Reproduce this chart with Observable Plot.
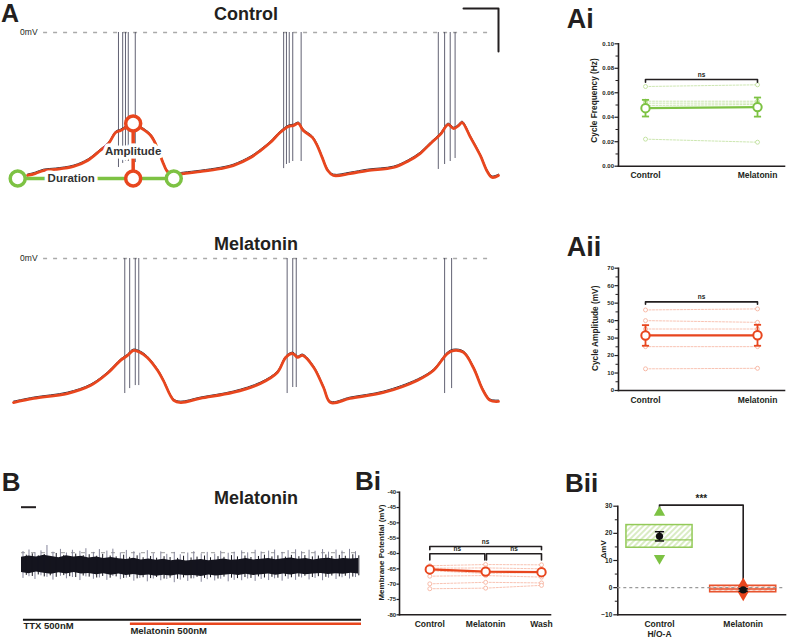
<!DOCTYPE html>
<html><head><meta charset="utf-8">
<script src="https://cdn.jsdelivr.net/npm/d3@7"></script>
<script src="https://cdn.jsdelivr.net/npm/@observablehq/plot@0.6"></script>
<style>
html,body{margin:0;padding:0;background:#fff;}
#fig{position:relative;width:787px;height:639px;overflow:hidden;font-family:"Liberation Sans",Arial,sans-serif;color:#231f20;}
#fig svg{position:absolute;overflow:visible;}
.lbl{position:absolute;font-weight:bold;line-height:1;white-space:nowrap;color:#231f20;}
</style></head><body><div id="fig"></div>
<script>
// ================= DATA =================
// Panel A, Control trace (time in s, membrane potential in mV)
const ctlTime = [2.0,3.1,4.3,6.0,8.6,10.6,12.4,13.6,14.6,15.3,16.0,16.7,17.4,18.1,19.6,20.6,21.4,22.1,23.1,24.3,26.7,29.6,31.4,33.9,35.3,36.7,38.1,39.3,40.0,40.7,41.4,42.7,43.4,44.1,44.9,45.7,48.1,50.6,54.3,56.3,58.1,59.6,61.0,62.1,62.9,63.6,64.1,65.3,66.7,67.7,68.4,69.3];
const ctlMv   = [-66.5,-65.6,-64.2,-63.7,-62.3,-59.5,-54.9,-51.6,-46.5,-45.6,-44.2,-42.8,-42.8,-44.2,-47.9,-54.0,-60.9,-65.1,-66.0,-65.6,-64.7,-63.3,-61.9,-58.1,-54.9,-51.2,-46.5,-43.7,-43.3,-42.3,-45.6,-48.8,-52.6,-58.1,-64.2,-66.5,-65.6,-64.2,-62.8,-60.0,-56.3,-51.6,-47.4,-42.8,-44.7,-43.3,-41.9,-48.8,-57.2,-64.7,-67.4,-66.5];
const ctlSpikeTime = [15.0,15.6,16.0,16.4,17.4,38.6,39.0,39.4,39.9,41.1,60.7,61.6,62.4,63.1];
const ctlSpikeLow  = [-62.8,-60.9,-60.0,-60.0,-60.5,-63.3,-61.4,-60.9,-60.0,-60.0,-63.7,-61.4,-60.0,-58.6];
// Panel A, Melatonin trace
const melTime = [0,2.9,7.7,11.0,13.4,15.3,16.3,17.1,18.1,19.1,20.6,21.4,22.9,23.9,26.7,31.4,35.3,37.7,38.9,39.9,40.6,41.3,42.9,44.3,45.3,48.1,52.9,57.7,60.0,62.0,62.9,64.3,65.7,67.1,68.1,69.3];
const melMv   = [-67.0,-65.1,-62.8,-59.1,-53.5,-47.4,-45.1,-42.8,-43.7,-46.0,-52.1,-56.7,-66.0,-67.0,-65.1,-62.3,-58.1,-53.0,-46.0,-44.2,-46.0,-45.1,-50.7,-60.0,-67.0,-65.1,-62.3,-56.7,-52.1,-44.2,-42.8,-43.7,-50.7,-61.4,-66.0,-66.5];
const melSpikeTime = [15.9,16.6,17.4,17.9,39.1,39.9,40.4,61.6,62.6];
const melSpikeLow  = [-62.8,-60.5,-59.1,-59.1,-62.8,-60.0,-60.0,-62.8,-60.5];
const spikePeakMv = 0;
const zeroLineStart = 4.3, zeroLineEnd = 68.1;
// Duration / amplitude annotation (Control)
const durationStart = 0.6, durationEnd = 22.9, annotBaseMv = -67.9;
const amplitudeTime = 17.1, amplitudePeakMv = -42.3;
// Scale bar A: 5 s, 20 mV
const scaleBarSec = 5, scaleBarMv = 20, scaleBarEnd = 69.3, scaleBarTopMv = 11.2;

// Panel Ai: cycle frequency (Hz)
const pairCats = ["Control", "Melatonin"];
const aiControl   = [0.0651, 0.0531, 0.0515, 0.0496, 0.0221];
const aiMelatonin = [0.0665, 0.0531, 0.0516, 0.0504, 0.0196];
const aiMean = [0.0474, 0.0483];
const aiSem  = [0.0068, 0.0078];
const aiTicks = [0, 0.02, 0.04, 0.06, 0.08, 0.10];
const aiMinor = [0.01, 0.03, 0.05, 0.07, 0.09];
const aiBracket = [{from:0, to:1, y:0.0708, end:0.0686, text:"ns"}];

// Panel Aii: cycle amplitude (mV)
const aiiControl   = [46.1, 40.0, 35.2, 25.1, 12.4];
const aiiMelatonin = [46.7, 39.0, 35.2, 25.1, 12.7];
const aiiMean = [31.5, 31.6];
const aiiSem  = [5.9, 6.0];
const aiiTicks = [0, 10, 20, 30, 40, 50, 60, 70];
const aiiMinor = [5, 15, 25, 35, 45, 55, 65];
const aiiBracket = [{from:0, to:1, y:50.7, end:49.4, text:"ns"}];

// Panel B trace (time in min, mV)
const bEnvHi = [-61.2,-60.6,-61.0,-60.2,-60.8,-61.4,-60.5,-61.1,-60.7,-61.5,-61.0,-61.8,-61.3,-61.9,-62.2,-61.6,-62.4,-62.0,-62.6,-62.1,-62.8,-62.3,-62.9,-62.5,-62.2,-62.8,-62.4,-62.0,-62.6,-62.3,-61.8,-62.4,-62.1,-61.7,-62.3,-61.9,-61.5,-62.1,-61.8,-62.4,-61.9,-61.6,-62.2,-61.8,-62.0,-61.7];
const bEnvLo = [-68.2,-68.8,-68.0,-68.6,-69.1,-68.4,-68.9,-68.3,-69.0,-68.7,-69.3,-68.8,-69.5,-69.0,-69.6,-69.2,-69.8,-69.4,-70.0,-69.5,-69.9,-69.3,-69.8,-69.6,-70.1,-69.4,-69.9,-69.5,-69.2,-69.7,-69.1,-69.6,-69.3,-68.9,-69.5,-69.0,-69.4,-68.8,-69.3,-69.0,-68.7,-69.2,-68.8,-69.1,-68.6,-68.9];
const bEnvStep = 0.5;
const bSpikeTime = [0.1,0.5,0.9,1.3,1.7,2.1,2.6,3.0,3.4,3.9,4.3,4.8,5.2,5.7,6.1,6.6,7.0,7.5,7.9,8.4,8.8,9.3,9.7,10.2,10.6,11.1,11.5,12.0,12.4,12.9,13.3,13.8,14.2,14.7,15.1,15.6,16.0,16.5,16.9,17.4,17.8,18.3,18.7,19.2,19.6,20.1,20.5,21.0,21.4,21.9,22.3];
const bSpikeHi = [-58.5,-57.8,-59.0,-58.2,-55.7,-58.8,-57.5,-59.2,-57.9,-58.4,-57.2,-58.9,-57.6,-58.3,-57.4,-59.1,-58.0,-58.6,-59.3,-58.1,-59.5,-58.7,-59.8,-58.9,-60.0,-59.2,-58.6,-59.6,-58.9,-59.7,-58.4,-59.3,-58.8,-58.2,-59.1,-57.9,-58.7,-58.3,-57.8,-58.9,-58.1,-57.7,-58.6,-57.9,-58.4,-57.6,-58.8,-57.8,-58.3,-57.5,-58.6];
const bSpikeLo = [-71.0,-70.2,-71.5,-69.8,-70.5,-71.8,-70.0,-71.2,-70.6,-72.0,-70.3,-71.4,-70.8,-71.9,-70.1,-71.6,-70.9,-72.3,-71.0,-72.6,-71.3,-72.1,-71.5,-73.0,-71.8,-72.4,-71.2,-72.8,-71.6,-72.2,-71.4,-72.6,-71.9,-72.1,-71.3,-72.4,-71.5,-72.0,-71.2,-72.3,-71.4,-71.9,-70.8,-71.7,-71.0,-72.1,-70.9,-71.5,-70.7,-71.3,-70.6];
const bDarkHi = [-60.2,-59.6,-60.5,-59.9,-60.8,-59.4,-60.3,-60.9,-59.7,-60.4,-60.0,-60.7,-59.8,-60.6,-61.0,-60.2,-61.2,-60.5,-61.4,-60.8,-61.6,-60.9,-61.3,-61.7,-60.7,-61.5,-61.1,-60.6,-61.4,-60.9,-61.2,-60.4,-61.0,-60.6,-61.3,-60.8,-60.2,-61.0,-60.5,-61.1,-60.3,-60.9,-60.4,-61.0,-60.6,-60.1,-60.8,-60.3,-60.7,-60.0,-60.5];
const bDarkLo = [-69.6,-70.1,-69.4,-70.3,-69.8,-70.5,-69.7,-70.2,-70.6,-69.9,-70.4,-70.8,-70.1,-70.9,-70.3,-71.0,-70.5,-71.2,-70.7,-71.1,-70.6,-71.3,-70.9,-71.4,-70.8,-71.2,-70.5,-71.0,-70.7,-71.3,-70.4,-70.9,-71.1,-70.6,-71.0,-70.3,-70.8,-70.5,-70.9,-70.2,-70.7,-70.4,-70.0,-70.6,-70.2,-70.5,-69.9,-70.3,-70.0,-70.4,-69.8];
const bRefMv = -59;
const ttxStart = 0.13, ttxEnd = 22.7, melStart = 7.27, melEnd = 22.7;
const bScaleBarMin = 1;

// Panel Bi: membrane potential (mV)
const biCats = ["Control", "Melatonin", "Wash"];
const biControl   = [-64.0, -64.8, -65.6, -67.4, -69.9, -71.5];
const biMelatonin = [-63.6, -64.7, -66.5, -67.2, -69.4, -71.3];
const biWash      = [-63.7, -65.0, -66.1, -67.7, -69.6, -70.4];
const biMean = [-65.2, -65.9, -66.1];
const biSem  = [0.8, 0.8, 0.8];
const biTicks = [-80, -75, -70, -65, -60, -55, -50, -45, -40];
const biBrackets = [
  {from:0, to:2, y:-57.7, end:-58.8, text:"ns"},
  {from:0, to:0.985, y:-60.1, end:-62.1, text:"ns"},
  {from:1.015, to:2, y:-60.1, end:-62.1, text:"ns"}
];

// Panel Bii: delta mV
const biiCats = ["Control\nH/O-A", "Melatonin"];
const biiQ1  = [14.7, -1.7];
const biiMed = [17.6, -0.5];
const biiQ3  = [23.05, 0.7];
const biiMax = [27.7, 1.3];
const biiMin = [10.8, -2.6];
const biiMean = [18.9, -0.85];
const biiSem  = [1.7, 0.45];
const biiTicks = [-10, 0, 10, 20, 30];
const biiMinor = [-5, 5, 15, 25];
const biiBracket = {y:30.4, leftEnd:29.2, rightEnd:2.6, text:"***"};

// ================= DRAWING =================
const INK = "#231f20";
const FONT = "'Liberation Sans', Arial, Helvetica, sans-serif";
const RED = "#e8461e", RED_LIGHT = "#f6b4a0";
const GREEN = "#7dc243", GREEN_LIGHT = "#bfe09c";
const SPIKE = "#3d3d52";
const fig = document.getElementById("fig");
const style = {fontFamily: FONT, background: "transparent", overflow: "visible", color: INK};

function place(el, left, top) {
  el.style.position = "absolute";
  el.style.left = left + "px";
  el.style.top = top + "px";
  fig.appendChild(el);
}
function label(text, left, top, size, center) {
  const d = document.createElement("div");
  d.className = "lbl";
  d.textContent = text;
  d.style.fontSize = size + "px";
  d.style.left = left + "px";
  d.style.top = top + "px";
  if (center) d.style.transform = "translateX(-50%)";
  fig.appendChild(d);
}

function traceMarks(time, mv, spikeTime, spikeLow) {
  const rows = time.map((t, i) => ({t, v: mv[i]}));
  const spikes = spikeTime.map((t, i) => ({t, lo: spikeLow[i], hi: spikePeakMv}));
  return [
    Plot.ruleY([0], {x1: zeroLineStart, x2: zeroLineEnd, stroke: "#aaaaaa", strokeWidth: 1.6, strokeDasharray: "4,6"}),
    Plot.text(["0mV"], {x: zeroLineStart, y: 0, textAnchor: "end", dx: -6, fontSize: 8.5, fill: INK}),
    Plot.ruleX(spikes, {x: "t", y1: "lo", y2: "hi", stroke: SPIKE, strokeWidth: 0.9, strokeOpacity: 0.9}),
    Plot.line(rows, {x: "t", y: "v", stroke: "#2b2b3a", strokeWidth: 1, dy: -1.4, curve: "catmull-rom"}),
    Plot.line(rows, {x: "t", y: "v", stroke: RED, strokeWidth: 2.8, curve: "catmull-rom"})
  ];
}

// ---- A: Control trace ----
{
  const sb = [
    {t: scaleBarEnd - scaleBarSec, v: scaleBarTopMv},
    {t: scaleBarEnd, v: scaleBarTopMv},
    {t: scaleBarEnd, v: scaleBarTopMv - scaleBarMv}
  ];
  const svg = Plot.plot({
    width: 520, height: 200, margin: 0, style,
    x: {domain: [0, 69.3], range: [13, 498], axis: null},
    y: {domain: [-70, 0], range: [182.5, 32], axis: null},
    marks: [
      ...traceMarks(ctlTime, ctlMv, ctlSpikeTime, ctlSpikeLow),
      Plot.line(sb, {x: "t", y: "v", stroke: INK, strokeWidth: 2}),
      Plot.ruleY([annotBaseMv], {x1: durationStart, x2: durationEnd, stroke: GREEN, strokeWidth: 3.5}),
      Plot.ruleX([amplitudeTime], {y1: annotBaseMv, y2: amplitudePeakMv, stroke: RED, strokeWidth: 3.5}),
      Plot.text(["Duration"], {x: (durationStart + amplitudeTime) / 2 - 0.6, y: annotBaseMv, fontSize: 11.5, fontWeight: "bold", fill: "#333", stroke: "white", strokeWidth: 7}),
      Plot.text(["Amplitude"], {x: amplitudeTime, y: (annotBaseMv + amplitudePeakMv) / 2 - 0.3, fontSize: 11.5, fontWeight: "bold", fill: "#333", stroke: "white", strokeWidth: 7}),
      Plot.dot([durationStart, durationEnd], {x: d => d, y: annotBaseMv, r: 7.5, stroke: GREEN, strokeWidth: 3.5, fill: "white"}),
      Plot.dot([annotBaseMv, amplitudePeakMv], {x: amplitudeTime, y: d => d, r: 7.5, stroke: RED, strokeWidth: 3.5, fill: "white"})
    ]
  });
  place(svg, 0, 0);
}

// ---- A: Melatonin trace ----
{
  const svg = Plot.plot({
    width: 520, height: 220, margin: 0, style,
    x: {domain: [0, 69.3], range: [13, 498], axis: null},
    y: {domain: [-70, 0], range: [208.5, 58], axis: null},
    marks: traceMarks(melTime, melMv, melSpikeTime, melSpikeLow)
  });
  place(svg, 0, 200);
}

// ---- paired dot plots ----
function paired(o) {
  const rows = [];
  o.series.forEach((vals, ci) => vals.forEach((v, id) => rows.push({ci, id, v})));
  const means = o.mean.map((m, i) => ({ci: i, m, s: o.sem[i]}));
  const caps = means.flatMap(d => [{ci: d.ci, y: d.m - d.s}, {ci: d.ci, y: d.m + d.s}]);
  const br = o.brackets.flatMap((b, k) => [
    {k, x: b.from, y: b.end}, {k, x: b.from, y: b.y}, {k, x: b.to, y: b.y}, {k, x: b.to, y: b.end}
  ]);
  const svg = Plot.plot({
    width: o.width, height: o.height, style,
    marginLeft: o.ml, marginTop: o.mt, marginBottom: o.mb, marginRight: o.mr,
    x: {domain: [0, o.cats.length - 1], range: o.xRange, axis: null},
    y: {domain: o.yDomain},
    marks: [
      Plot.frame({anchor: "left", stroke: INK, strokeWidth: 1.6}),
      Plot.frame({anchor: "bottom", stroke: INK, strokeWidth: 1.6}),
      Plot.axisY(o.ticks, {tickSize: o.tickSize, tickPadding: o.tickPad, strokeWidth: 1.2, fontSize: 6, fontWeight: "bold", tickFormat: o.fmt, label: null}),
      o.minor ? Plot.axisY(o.minor, {tickSize: 2.5, strokeWidth: 1, tickFormat: () => "", label: null}) : null,
      Plot.text(o.cats, {x: (d, i) => i, y: o.yDomain[0], dy: 6, lineAnchor: "top", fontSize: 8.5, fontWeight: "bold", fill: INK}),
      Plot.text([o.yLabel], {frameAnchor: "left", y: o.yLabelAt, dx: o.yLabelDx, rotate: -90, textAnchor: "middle", fontSize: o.yLabelSize, fontWeight: "bold", fill: INK}),
      Plot.line(rows, {x: "ci", y: "v", z: "id", stroke: o.light, strokeWidth: 0.8, strokeDasharray: "2,1.5"}),
      Plot.dot(rows, {x: "ci", y: "v", r: 2, stroke: o.light, strokeWidth: 0.9, fill: "white"}),
      Plot.line(br, {x: "x", y: "y", z: "k", stroke: INK, strokeWidth: 1.6}),
      Plot.text(o.brackets, {x: d => (d.from + d.to) / 2, y: "y", text: "text", dy: -5, fontSize: 6.5, fontWeight: "bold", fill: INK}),
      Plot.line(means, {x: "ci", y: "m", stroke: o.color, strokeWidth: 2.2}),
      Plot.ruleX(means, {x: "ci", y1: d => d.m - d.s, y2: d => d.m + d.s, stroke: o.color, strokeWidth: 1.8}),
      Plot.link(caps, {x1: d => d.ci - o.cap, x2: d => d.ci + o.cap, y1: "y", y2: "y", stroke: o.color, strokeWidth: 1.8}),
      Plot.dot(means, {x: "ci", y: "m", r: 4.2, stroke: o.color, strokeWidth: 2, fill: "white"})
    ]
  });
  place(svg, o.left, o.top);
}

paired({
  left: 540, top: 0, width: 247, height: 200, ml: 78, mt: 43.3, mb: 34.3, mr: 3,
  cats: pairCats, xRange: [105, 217], yDomain: [0, 0.10], ticks: aiTicks, minor: aiMinor,
  tickSize: 3.5, tickPad: 1,
  fmt: d => d.toFixed(2), yLabel: "Cycle Frequency (Hz)", yLabelAt: 0.0537, yLabelDx: -24, yLabelSize: 8.3,
  series: [aiControl, aiMelatonin], mean: aiMean, sem: aiSem, color: GREEN, light: GREEN_LIGHT,
  brackets: aiBracket, cap: 0.032
});
paired({
  left: 540, top: 220, width: 247, height: 200, ml: 78, mt: 47.7, mb: 30, mr: 3,
  cats: pairCats, xRange: [105, 217], yDomain: [0, 70], ticks: aiiTicks, minor: aiiMinor,
  tickSize: 3.5, tickPad: 1,
  fmt: d => String(d), yLabel: "Cycle Amplitude (mV)", yLabelAt: 35.6, yLabelDx: -23, yLabelSize: 8.3,
  series: [aiiControl, aiiMelatonin], mean: aiiMean, sem: aiiSem, color: RED, light: RED_LIGHT,
  brackets: aiiBracket, cap: 0.032
});
paired({
  left: 350, top: 460, width: 205, height: 179, ml: 49, mt: 31.7, mb: 24.7, mr: 5,
  cats: biCats, xRange: [79.3, 191], yDomain: [-80, -40], ticks: biTicks, minor: null,
  tickSize: 2.5, tickPad: 0.8,
  fmt: d => String(d), yLabel: "Membrane Potential (mV)", yLabelAt: -59.7, yLabelDx: -18, yLabelSize: 8,
  series: [biControl, biMelatonin, biWash], mean: biMean, sem: biSem, color: RED, light: RED_LIGHT,
  brackets: biBrackets, cap: 0.05
});

// ---- B trace ----
{
  const env = bEnvHi.map((hi, i) => ({t: i * bEnvStep, hi, lo: bEnvLo[i]}));
  const spikes = bSpikeTime.map((t, i) => ({t, hi: bSpikeHi[i], lo: bSpikeLo[i]}));
  const dark = bSpikeTime.map((t, i) => ({t: t + 0.22, hi: bDarkHi[i], lo: bDarkLo[i]})).filter(d => d.hi !== undefined && d.lo !== undefined);
  const svg = Plot.plot({
    width: 370, height: 179, margin: 0, style,
    x: {domain: [0, 22.5], range: [21, 358], axis: null},
    y: {domain: [-80, -50], range: [137.25, 72.75], axis: null},
    marks: [
      Plot.ruleY([bRefMv], {x1: 0, x2: 22.5, stroke: "#b0b0b0", strokeWidth: 1.4, strokeDasharray: "4,6"}),
      Plot.ruleX(spikes, {x: "t", y1: "lo", y2: "hi", stroke: "#85859a", strokeWidth: 1}),
      Plot.areaY(env, {x: "t", y1: "lo", y2: "hi", fill: "#14141e"}),
      Plot.ruleX(dark, {x: "t", y1: "lo", y2: "hi", stroke: "#14141e", strokeWidth: 1}),
      Plot.ruleY([-65], {x1: 0, x2: bScaleBarMin, dy: -58.3, stroke: INK, strokeWidth: 2}),
      Plot.ruleY([-65], {x1: ttxStart, x2: ttxEnd, dy: 54.3, stroke: "#111", strokeWidth: 2}),
      Plot.ruleY([-65], {x1: melStart, x2: melEnd, dy: 58.3, stroke: RED, strokeWidth: 2.5}),
      Plot.text(["TTX 500nM"], {x: ttxStart, y: -65, dy: 60.8, textAnchor: "start", fontSize: 9.5, fontWeight: "bold", fill: INK}),
      Plot.text(["Melatonin 500nM"], {x: melStart, y: -65, dy: 65, textAnchor: "start", fontSize: 9.5, fontWeight: "bold", fill: INK})
    ]
  });
  place(svg, 0, 460);
}

// ---- Bii box plot ----
{
  const svg = Plot.plot({
    width: 232, height: 179, style,
    marginLeft: 62.3, marginTop: 45.7, marginBottom: 24.7, marginRight: 2,
    x: {domain: [0, 1], range: [104, 187.7], axis: null},
    y: {domain: [-10, 30]},
    marks: [
      Plot.frame({anchor: "left", stroke: INK, strokeWidth: 1.6}),
      Plot.frame({anchor: "bottom", stroke: INK, strokeWidth: 1.6}),
      Plot.axisY(biiTicks, {tickSize: 4, tickPadding: 1.5, strokeWidth: 1.2, fontSize: 6.5, fontWeight: "bold", label: null}),
      Plot.axisY(biiMinor, {tickSize: 2.5, strokeWidth: 1, tickFormat: () => "", label: null}),
      Plot.text(biiCats, {x: (d, i) => i, y: -10, dy: 5, lineAnchor: "top", lineHeight: 1.18, fontSize: 8.5, fontWeight: "bold", fill: INK}),
      Plot.text(["ΔmV"], {frameAnchor: "left", y: 14.1, dx: -14, rotate: -90, textAnchor: "middle", fontSize: 8, fontWeight: "bold", fill: INK}),
      Plot.rect([0], {x1: i => i - 0.395, x2: i => i + 0.395, y1: i => biiQ1[i], y2: i => biiQ3[i], fill: "url(#hatchG)", stroke: "#93ca58", strokeWidth: 1.5}),
      Plot.rect([1], {x1: i => i - 0.395, x2: i => i + 0.395, y1: i => biiQ1[i], y2: i => biiQ3[i], fill: "url(#hatchR)", stroke: "#e8532e", strokeWidth: 1.5}),
      Plot.ruleY([0], {stroke: "#9a9a9a", strokeWidth: 1.2, strokeDasharray: "3,3"}),
      Plot.link([0, 1], {x1: i => i - 0.395, x2: i => i + 0.395, y1: i => biiMed[i], y2: i => biiMed[i], stroke: i => i, strokeWidth: 1.3}),
      Plot.line([{x: 0, y: biiBracket.leftEnd}, {x: 0, y: biiBracket.y}, {x: 1, y: biiBracket.y}, {x: 1, y: biiBracket.rightEnd}], {x: "x", y: "y", stroke: INK, strokeWidth: 1.6}),
      Plot.text([biiBracket.text], {x: 0.5, y: biiBracket.y, dy: -6, fontSize: 10, fontWeight: "bold", fill: INK}),
      Plot.dot([0], {x: i => i, y: i => biiMax[i], symbol: "triangle", r: 4.2, fill: GREEN}),
      Plot.dot([0], {x: i => i, y: i => biiMin[i], symbol: "triangle", r: 4.2, fill: GREEN, rotate: 180}),
      Plot.dot([1], {x: i => i, y: i => biiMax[i], symbol: "triangle", r: 4.2, fill: RED}),
      Plot.dot([1], {x: i => i, y: i => biiMin[i], symbol: "triangle", r: 4.2, fill: RED, rotate: 180}),
      Plot.ruleX([0, 1], {x: i => i, y1: i => biiMean[i] - biiSem[i], y2: i => biiMean[i] + biiSem[i], stroke: "#111", strokeWidth: 1.5}),
      Plot.link([0, 0, 1, 1], {x1: (i) => i - 0.055, x2: (i) => i + 0.055, y1: (i, k) => biiMean[i] + (k % 2 ? biiSem[i] : -biiSem[i]), y2: (i, k) => biiMean[i] + (k % 2 ? biiSem[i] : -biiSem[i]), stroke: "#111", strokeWidth: 1.5}),
      Plot.dot([0, 1], {x: i => i, y: i => biiMean[i], r: 3.6, fill: "#111"})
    ],
    color: {type: "ordinal", domain: [0, 1], range: ["#93ca58", "#e8532e"]}
  });
  const defs = d3.select(svg).insert("defs", ":first-child");
  function hatch(id, color, bg) {
    const p = defs.append("pattern").attr("id", id).attr("patternUnits", "userSpaceOnUse")
      .attr("width", 4).attr("height", 4).attr("patternTransform", "rotate(45)");
    p.append("rect").attr("width", 4).attr("height", 4).attr("fill", bg);
    p.append("line").attr("x1", 1).attr("y1", 0).attr("x2", 1).attr("y2", 4).attr("stroke", color).attr("stroke-width", 1);
  }
  hatch("hatchG", "#b5da8a", "#ffffff");
  hatch("hatchR", "#f0937a", "#fbe0d8");
  place(svg, 555, 460);
}

// ---- panel letters & titles ----
label("A", 1, 0.5, 25);
label("Ai", 566.7, 5.5, 27);
label("Aii", 566.7, 234, 27);
label("B", 1.7, 469, 26);
label("Bi", 355, 468, 26);
label("Bii", 565, 469.5, 26);
label("Control", 246, 5.4, 18, true);
label("Melatonin", 256, 235.4, 18, true);
label("Melatonin", 256, 489.4, 18, true);
</script></body></html>
